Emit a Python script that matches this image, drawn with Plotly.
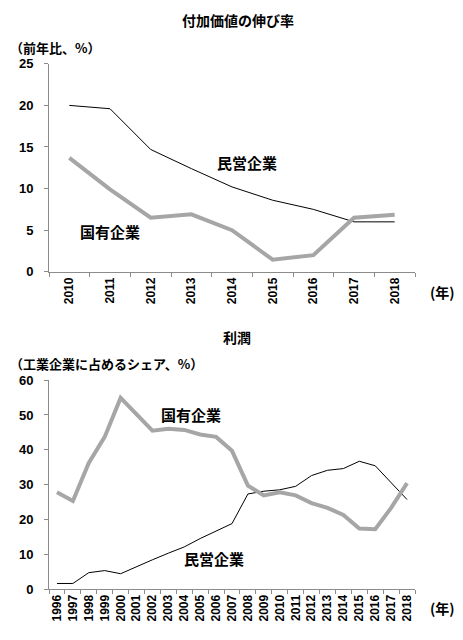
import plotly.graph_objects as go

# 付加価値の伸び率 (前年比、%)
years_top = ["2010", "2011", "2012", "2013", "2014", "2015", "2016", "2017", "2018"]
private_va = [20.0, 19.6, 14.7, 12.4, 10.2, 8.6, 7.5, 6.0, 6.0]
state_va = [13.7, 9.9, 6.5, 6.9, 5.0, 1.45, 2.0, 6.5, 6.85]

# 利潤 (工業企業に占めるシェア、%)
years_bottom = [str(y) for y in range(1996, 2019)]
private_profit = [1.6, 1.6, 4.7, 5.3, 4.4, 6.5, 8.4, 10.3, 12.1, 14.5, 16.6, 18.8,
                  27.3, 28.1, 28.5, 29.5, 32.6, 34.1, 34.6, 36.7, 35.4, 30.6, 25.7]
state_profit = [27.8, 25.3, 36.2, 43.7, 54.9, 50.2, 45.5, 46.0, 45.7, 44.4, 43.7, 39.7,
                29.7, 26.9, 27.8, 26.9, 24.7, 23.3, 21.3, 17.4, 17.2, 23.3, 30.4]

# page body has an 8px margin, so the figure is drawn 8px smaller and offset
OFF = 8
W, H = 463 - OFF, 640 - OFF
JP = "Noto Sans CJK JP"
NUM = "Liberation Sans"
GRAY = "#A6A6A6"
AXIS = "#8C8C8C"


def px_x(v):
    return (v - OFF) / W


def px_y(v):
    return 1 - (v - OFF) / H


fig = go.Figure()

fig.add_trace(go.Scatter(x=years_top, y=private_va, mode="lines",
                         line=dict(color="black", width=1), xaxis="x", yaxis="y"))
fig.add_trace(go.Scatter(x=years_top, y=state_va, mode="lines",
                         line=dict(color=GRAY, width=4), xaxis="x", yaxis="y"))
fig.add_trace(go.Scatter(x=years_bottom, y=private_profit, mode="lines",
                         line=dict(color="black", width=1), xaxis="x2", yaxis="y2"))
fig.add_trace(go.Scatter(x=years_bottom, y=state_profit, mode="lines",
                         line=dict(color=GRAY, width=4), xaxis="x2", yaxis="y2"))

xdom = [px_x(49), px_x(415)]
common_x = dict(type="category", domain=xdom, showline=True, linecolor=AXIS, linewidth=1,
                ticks="outside", tickson="boundaries", ticklen=4, tickcolor=AXIS,
                tickangle=-90, showgrid=False, zeroline=False,
                tickfont=dict(family=NUM, size=12, color="black", weight="bold"))
common_y = dict(showline=True, linecolor=AXIS, linewidth=1, ticks="outside", ticklen=4,
                tickcolor=AXIS, showgrid=False, zeroline=False, ticklabelstandoff=8,
                tickfont=dict(family=NUM, size=13, color="black", weight="bold"))

fig.update_layout(
    width=W, height=H,
    margin=dict(l=0, r=0, t=0, b=0),
    paper_bgcolor="white", plot_bgcolor="white",
    showlegend=False,
    xaxis=dict(common_x, anchor="y", range=[-0.5, len(years_top) - 0.5]),
    yaxis=dict(common_y, domain=[px_y(271), px_y(58)], range=[0, 25], dtick=5, anchor="x"),
    xaxis2=dict(common_x, anchor="y2", range=[-0.5, len(years_bottom) - 0.5]),
    yaxis2=dict(common_y, domain=[px_y(596), px_y(382)], range=[0, 60], dtick=10, anchor="x2"),
)

notes = [
    ("付加価値の伸び率", 238, 13, "center", 14),
    ("（前年比、%）", 8, 41, "left", 13),
    ("民営企業", 247, 159, "center", 15),
    ("国有企業", 110, 230, "center", 15),
    ("(年)", 457, 292, "right", 14),
    ("利潤", 237, 338, "center", 14),
    ("（工業企業に占めるシェア、%）", 8, 365, "left", 13),
    ("国有企業", 191, 417, "center", 15),
    ("民営企業", 214, 565, "center", 15),
    ("(年)", 457, 615, "right", 14),
]
for text, x, y, anchor, size in notes:
    fig.add_annotation(text=text, x=px_x(x), y=px_y(y), xref="paper", yref="paper",
                       xanchor=anchor, yanchor="middle", showarrow=False,
                       font=dict(family=JP, size=size, color="black", weight="bold"))

fig.write_html("out.html")
